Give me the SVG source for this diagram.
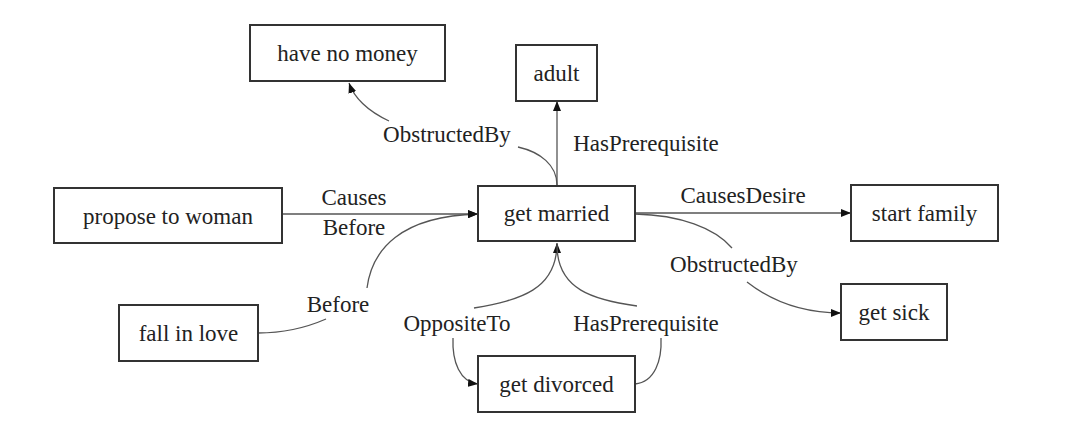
<svg xmlns="http://www.w3.org/2000/svg" width="1080" height="434" viewBox="0 0 1080 434">
<style>
.box{fill:#fff;stroke:#333;stroke-width:2}
.t{font-size:23px;fill:#222;text-anchor:middle}
.e{fill:none;stroke:#555;stroke-width:1.3}
</style>
<defs>
<marker id="arr" viewBox="0 0 10 8" refX="10" refY="4" markerWidth="10" markerHeight="8" markerUnits="userSpaceOnUse" orient="auto">
<path d="M0,0 L10,4 L0,8 z" fill="#111"/>
</marker>
</defs>
<rect width="1080" height="434" fill="#fff"/>
<g font-family="'Liberation Serif', 'Times New Roman', Tinos, 'DejaVu Serif', serif">
<g id="connectors">
<path class="e" d="M557,185 L557,101" marker-end="url(#arr)"/>
<path class="e" d="M557,185 C557,165 540,152 518,147"/>
<path class="e" d="M389,121 C370,112 355,100 349,83" marker-end="url(#arr)"/>
<path class="e" d="M282,214 L478,214" marker-end="url(#arr)"/>
<path class="e" d="M258,333 C285,333 310,326 326,319"/>
<path class="e" d="M367,288 C372,250 400,216 478,214" marker-end="url(#arr)"/>
<path class="e" d="M474,308 C520,300 557,290 557,243" marker-end="url(#arr)"/>
<path class="e" d="M637,306 C594,300 557,290 557,245"/>
<path class="e" d="M453,338 C452,362 460,382 478,384" marker-end="url(#arr)"/>
<path class="e" d="M635,384 C655,382 662,360 661,338"/>
<path class="e" d="M635,213 L851,213" marker-end="url(#arr)"/>
<path class="e" d="M635,214 C680,215 715,228 732,248"/>
<path class="e" d="M747,282 C770,300 800,313 841,313" marker-end="url(#arr)"/>
<text class="t" x="447" y="142">ObstructedBy</text>
<text class="t" x="646" y="151">HasPrerequisite</text>
<text class="t" x="354" y="205">Causes</text>
<text class="t" x="354" y="235">Before</text>
<text class="t" x="338" y="312">Before</text>
<text class="t" x="457" y="331">OppositeTo</text>
<text class="t" x="646" y="331">HasPrerequisite</text>
<text class="t" x="743" y="203">CausesDesire</text>
<text class="t" x="734" y="272">ObstructedBy</text>
</g>
<g id="have-no-money"><rect class="box" x="250" y="25" width="195" height="56"/><text class="t" x="347.5" y="61">have no money</text></g>
<g id="adult"><rect class="box" x="516" y="45" width="81" height="56"/><text class="t" x="556.5" y="81">adult</text></g>
<g id="propose-to-woman"><rect class="box" x="54" y="188" width="228" height="55"/><text class="t" x="168" y="224">propose to woman</text></g>
<g id="get-married"><rect class="box" x="478" y="186" width="157" height="55"/><text class="t" x="556.5" y="221">get married</text></g>
<g id="start-family"><rect class="box" x="851" y="185" width="147" height="56"/><text class="t" x="924.5" y="221">start family</text></g>
<g id="fall-in-love"><rect class="box" x="119" y="305" width="139" height="56"/><text class="t" x="188.5" y="341">fall in love</text></g>
<g id="get-sick"><rect class="box" x="841" y="284" width="106" height="56"/><text class="t" x="894" y="320">get sick</text></g>
<g id="get-divorced"><rect class="box" x="478" y="356" width="157" height="56"/><text class="t" x="556.5" y="392">get divorced</text></g>
</g>
</svg>
